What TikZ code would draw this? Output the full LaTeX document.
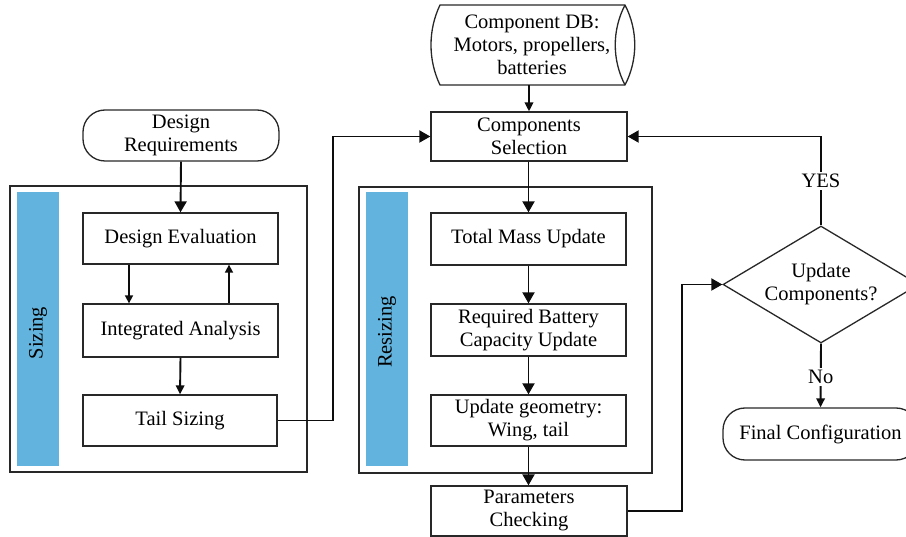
\documentclass[tikz,border=0pt]{standalone}
\usepackage{fontspec}
\setmainfont{Liberation Serif}
\usetikzlibrary{shapes.geometric,arrows.meta}
\definecolor{barblue}{RGB}{98,180,222}
\definecolor{edge}{RGB}{40,40,40}
\tikzset{
  txt/.style={font=\fontsize{20.5}{23}\selectfont},
  box/.style={txt,draw=edge,line width=1.3pt,rectangle,align=center,inner sep=2pt},
  frame/.style={draw=edge,line width=1.3pt},
  bar/.style={fill=barblue,draw=none},
  conn/.style={draw=black!95,line width=1.9pt},
  bigtip/.style={-{Triangle[length=11pt,width=12pt]}},
  midtip/.style={-{Triangle[length=9pt,width=8.5pt]}},
  smalltip/.style={-{Triangle[length=8pt,width=8pt]}},
  lbl/.style={txt,fill=white,inner sep=2pt},
}
\begin{document}
\begin{tikzpicture}[x=1pt,y=-1pt]
\clip (0,0) rectangle (906,537);
\fill[white] (0,0) rectangle (906,537);

% frames and bars
\draw[frame] (10,186) rectangle (307,472);
\fill[bar] (17,192) rectangle (59,466);
\draw[frame] (359,187) rectangle (652,473);
\fill[bar] (366,192) rectangle (408,466);
\node[txt,rotate=90] (lsizing) at (38,333) {Sizing};
\node[txt,rotate=90] (lresizing) at (387,332) {Resizing};

% left column
\node[box,rounded corners=22pt,minimum width=196pt,minimum height=51pt] (req) at (181,135.5) {Design\\Requirements};
\node[box,minimum width=195pt,minimum height=51pt] (de) at (180.5,238.5) {Design Evaluation};
\node[box,minimum width=195pt,minimum height=53pt] (ia) at (180.5,330.5) {Integrated Analysis};
\node[box,minimum width=194pt,minimum height=51pt] (ts) at (180,420.5) {Tail Sizing};

% component DB shape
\draw[frame,fill=white] (440,5) -- (625,5) .. controls (638,30) and (638,60) .. (625,85) -- (440,85) .. controls (428,60) and (428,30) .. (440,5) -- cycle;
\draw[frame] (625,5) .. controls (612,30) and (612,60) .. (625,85);
\node[txt,align=center,inner sep=0pt,minimum height=80pt] (db) at (532,45) {Component DB:\\Motors, propellers,\\batteries};

% middle column
\node[box,minimum width=196pt,minimum height=49pt] (cs) at (529,136.5) {Components\\Selection};
\node[box,minimum width=195pt,minimum height=52pt] (tm) at (528.5,239) {Total Mass Update};
\node[box,minimum width=195pt,minimum height=52pt] (rb) at (528.5,330) {Required Battery\\Capacity Update};
\node[box,minimum width=195pt,minimum height=51pt] (ug) at (528.5,420.5) {Update geometry:\\Wing, tail};
\node[box,minimum width=196pt,minimum height=50pt] (pc) at (529,511) {Parameters\\Checking};

% right column
\node[txt,draw=edge,line width=1.3pt,diamond,aspect=1.68,minimum width=196pt,minimum height=117pt,inner sep=0pt,align=center] (dec) at (821,284.5) {Update\\Components?};
\node[box,rounded corners=22pt,minimum width=195pt,minimum height=52pt] (fc) at (820.5,434) {Final Configuration};

% connectors
\draw[conn,bigtip] (req.south) -- (de.north);
\draw[conn,smalltip,line width=1.6pt] ([xshift=-51.5pt]de.south) -- ([xshift=-51.5pt]ia.north);
\draw[conn,smalltip,line width=1.6pt] ([xshift=48.5pt]ia.north) -- ([xshift=48.5pt]de.south);
\draw[conn,midtip] (ia.south) -- (ts.north);

\coordinate (k1) at (333,420);
\draw[conn,bigtip] (ts.east) -- (ts.east -| k1) |- (cs.west);
\draw[conn,midtip] (cs.north |- db.south) -- (cs.north);

\draw[conn,bigtip] ([xshift=-0.5pt]cs.south) -- (tm.north);
\draw[conn,bigtip] (tm.south) -- (rb.north);
\draw[conn,bigtip] (rb.south) -- (ug.north);
\draw[conn,bigtip] (ug.south) -- ([xshift=-0.5pt]pc.north);

\coordinate (k2) at (682,509);
\draw[conn,bigtip] (pc.east) -- (pc.east -| k2) |- (dec.west);

\draw[conn,bigtip] (dec.north) |- (cs.east) node[pos=0.25,lbl] (yes) {YES};
\draw[conn,midtip] (dec.south) -- (fc.north) node[pos=0.52,lbl] (no) {No};
\end{tikzpicture}
\end{document}
